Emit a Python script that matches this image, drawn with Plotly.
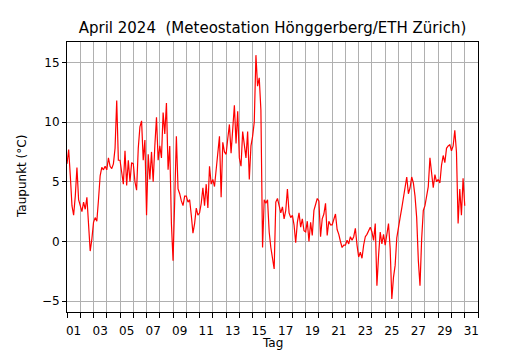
import plotly.graph_objects as go

# Dew point (°C), 3-hourly readings, one list per day (00,03,...,21 h)
hours = [0, 3, 6, 9, 12, 15, 18, 21]
dew_by_day = {
    1: [6.5, 7.7, 5.5, 3.0, 2.2, 3.8, 6.2, 3.5],
    2: [3.0, 2.5, 3.3, 2.7, 3.7, 1.0, -0.8, 0.2],
    3: [1.6, 2.0, 1.7, 3.5, 5.5, 6.2, 6.0, 6.3],
    4: [6.0, 7.0, 6.3, 6.1, 6.5, 7.8, 11.8, 6.8],
    5: [6.8, 5.8, 4.8, 7.6, 4.7, 6.8, 5.0, 6.6],
    6: [6.5, 5.0, 4.3, 7.8, 9.6, 10.1, 6.8, 8.5],
    7: [2.2, 7.3, 5.2, 7.5, 5.0, 8.0, 10.4, 6.8],
    8: [8.0, 7.0, 10.8, 9.0, 11.6, 6.0, 8.0, 1.5],
    9: [-1.6, 3.5, 8.8, 4.4, 4.0, 3.4, 3.0, 3.8],
    10: [3.8, 3.3, 3.5, 2.2, 0.7, 1.5, 2.8, 2.2],
    11: [2.4, 3.2, 4.5, 3.0, 4.8, 2.8, 6.3, 4.8],
    12: [5.2, 4.6, 6.2, 7.2, 8.8, 3.7, 8.3, 7.5],
    13: [7.3, 8.6, 9.8, 7.4, 9.6, 11.4, 8.2, 10.9],
    14: [7.0, 6.3, 9.2, 8.0, 7.0, 9.2, 5.2, 8.0],
    15: [8.8, 10.0, 15.6, 13.0, 13.7, 11.0, -0.5, 3.5],
    16: [3.2, 3.5, 0.8, -0.5, -1.5, -2.3, 3.3, 3.6],
    17: [3.0, 2.4, 2.9, 1.9, 2.6, 4.4, 2.4, 2.0],
    18: [2.2, 1.4, -0.1, 1.6, 2.4, 1.2, 1.9, 0.9],
    19: [0.8, 1.7, 0.0, 1.6, 0.5, 2.6, 3.1, 3.6],
    20: [3.4, 0.4, 1.9, 2.3, 3.2, 0.5, 1.7, 1.4],
    21: [1.4, 1.9, 2.3, 1.0, 0.6, 0.0, -0.5, -0.3],
    22: [-0.3, 0.1, -0.2, 0.4, 0.1, 0.4, 1.1, -0.3],
    23: [-1.3, -0.9, -1.4, -0.3, 0.4, 0.6, 0.9, 1.2],
    24: [0.8, 0.1, 1.5, -3.7, -1.2, 0.8, -0.2, 0.6],
    25: [-0.3, 0.5, 1.5, -0.6, -4.8, -3.0, -2.0, 0.3],
    26: [1.3, 2.0, 2.8, 3.8, 4.4, 5.4, 4.0, 4.5],
    27: [5.4, 4.9, 3.8, 2.0, -1.6, -3.7, 0.2, 2.6],
    28: [3.0, 3.9, 4.6, 7.0, 5.8, 4.5, 5.6, 5.0],
    29: [5.2, 4.9, 6.4, 7.2, 6.6, 7.8, 8.0, 8.1],
    30: [7.6, 8.0, 9.3, 7.5, 1.5, 4.4, 2.2, 5.3],
}
last_time = 31.0
last_value = 3.0

day_ticks = list(range(1, 33))
label_days = list(range(1, 32, 2))
label_text = ["%02d" % d for d in label_days]
y_tickvals = [-5, 0, 5, 10, 15]
y_ticktext = ["\u22125", "0", "5", "10", "15"]

t, v = [], []
for day, vals in dew_by_day.items():
    for h, val in zip(hours, vals):
        t.append(day + h / 24.0)
        v.append(val)
t.append(last_time)
v.append(last_value)

# the page body has an 8px default margin, so the figure is 8px smaller
W, H = 522, 342
ML, MR, MT, MB = 59, 52, 34, 38
PW = W - ML - MR
PH = H - MT - MB

font = "DejaVu Sans"
fig = go.Figure()
fig.add_trace(go.Scatter(x=t, y=v, mode="lines", line=dict(color="#ff0000", width=1.2),
                         showlegend=False, hoverinfo="skip"))

fig.update_layout(
    width=W, height=H,
    margin=dict(l=ML, r=MR, t=MT, b=MB, autoexpand=False),
    paper_bgcolor="white", plot_bgcolor="white",
    font=dict(family=font, size=12, color="black"),
    title=dict(text="April 2024\u00a0 (Meteostation Hönggerberg/ETH Zürich)",
               x=0.5, xref="paper", xanchor="center",
               y=1 - 20 / H, yref="container", yanchor="middle",
               font=dict(family=font, size=15, color="black")),
    xaxis=dict(range=[1, 32], tickvals=[d + 0.5 for d in label_days], ticktext=label_text,
               ticks="", showgrid=False, zeroline=False,
               showline=True, linecolor="black", linewidth=1, mirror=True,
               ticklabelstandoff=8, tickfont=dict(size=12),
               minor=dict(tickvals=day_ticks, ticks="outside", ticklen=5, tickcolor="black",
                          tickwidth=1, showgrid=True, gridcolor="#b0b0b0", gridwidth=1)),
    yaxis=dict(range=[-5.9, 16.7], tickvals=y_tickvals, ticktext=y_ticktext,
               ticks="outside", ticklen=4, tickcolor="black",
               showgrid=True, gridcolor="#b0b0b0", gridwidth=1, zeroline=False,
               showline=True, linecolor="black", linewidth=1, mirror=True,
               tickfont=dict(size=12)),
    annotations=[
        dict(text="Taupunkt (°C)", x=(14 - ML) / PW, xref="paper", xanchor="center",
             y=0.5, yref="paper", yanchor="middle",
             textangle=-90, showarrow=False, font=dict(size=12)),
        dict(text="Tag", x=0.5, xref="paper", xanchor="center",
             y=-(335 - (H - MB)) / PH, yref="paper",
             yanchor="middle", showarrow=False, font=dict(size=12)),
    ],
)
fig.write_html("out.html")
